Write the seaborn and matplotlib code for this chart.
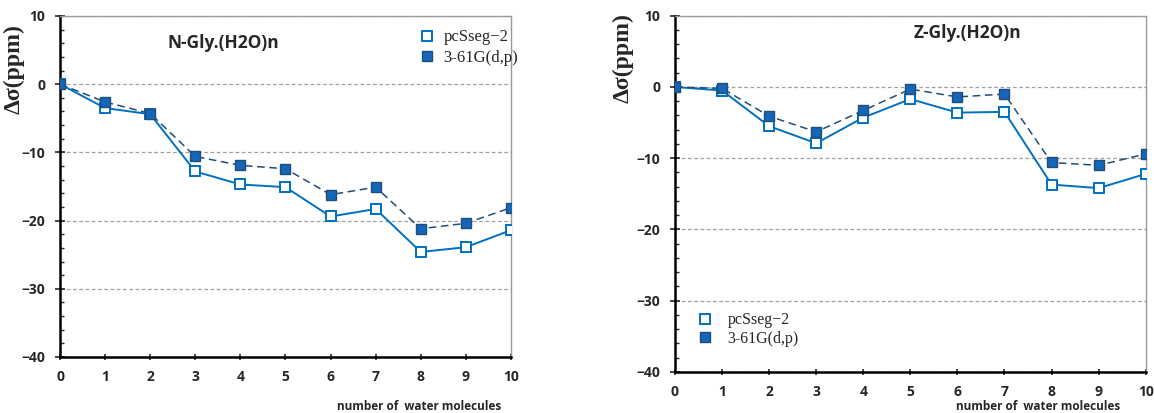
import matplotlib
matplotlib.use("Agg")
import matplotlib.pyplot as plt
from matplotlib.lines import Line2D
from matplotlib.ticker import MultipleLocator
import pandas as pd
import seaborn as sns

# number of water molecules
n_water = [0, 1, 2, 3, 4, 5, 6, 7, 8, 9, 10]

# N-Gly.(H2O)n, chemical shift change (ppm)
n_gly_pcsseg = [0, -3.5, -4.4, -12.8, -14.7, -15.1, -19.4, -18.3, -24.6, -23.9, -21.4]
n_gly_631g = [0, -2.6, -4.3, -10.6, -11.9, -12.4, -16.2, -15.1, -21.2, -20.4, -18.1]

# Z-Gly.(H2O)n
z_gly_pcsseg = [0, -0.5, -5.5, -7.9, -4.3, -1.7, -3.6, -3.5, -13.7, -14.2, -12.2]
z_gly_631g = [0, -0.2, -4.1, -6.3, -3.3, -0.3, -1.4, -1.0, -10.6, -11.0, -9.4]

series_names = ["pcSseg\u22122", "3-61G(d,p)"]

sns.set_style("white")
plt.rcParams['font.family'] = ['Open Sans', 'DejaVu Sans']

open_col = '#0070C0'
fill_col = '#1565B8'
dark_col = '#1F4E79'


def draw_panel(ax, pcsseg, g631):
    df = pd.DataFrame({'n': n_water, 'pcsseg': pcsseg, 'g631': g631})
    sns.lineplot(data=df, x='n', y='pcsseg', ax=ax, color=open_col, linewidth=1.4,
                 marker='s', markersize=6.5, markerfacecolor='white',
                 markeredgecolor=open_col, markeredgewidth=1.4, zorder=3)
    sns.lineplot(data=df, x='n', y='g631', ax=ax, color=dark_col, linewidth=1.1,
                 linestyle=(0, (5, 3)), marker='s', markersize=6.5,
                 markerfacecolor=fill_col, markeredgecolor=dark_col,
                 markeredgewidth=1.0, zorder=4)
    ax.set_xlim(0, 10)
    ax.set_ylim(-40, 10)
    ax.xaxis.set_major_locator(MultipleLocator(1))
    ax.yaxis.set_major_locator(MultipleLocator(10))
    ax.yaxis.set_minor_locator(MultipleLocator(2))
    ax.yaxis.grid(True, linestyle=(0, (3, 2)), color='#a0a0a0', linewidth=0.9)
    ax.set_axisbelow(True)
    for side in ['left', 'bottom']:
        ax.spines[side].set_color('black')
        ax.spines[side].set_linewidth(1.8)
    for side in ['top', 'right']:
        ax.spines[side].set_color('#999999')
        ax.spines[side].set_linewidth(1.0)
    ax.tick_params(axis='y', which='major', direction='inout', length=7, width=1.2,
                   left=True, pad=7, labelsize=10)
    ax.tick_params(axis='y', which='minor', direction='in', length=3, width=1.0, left=True)
    ax.tick_params(axis='x', which='major', direction='inout', length=5, width=1.2,
                   bottom=True, pad=7, labelsize=10)
    for lab in ax.get_xticklabels() + ax.get_yticklabels():
        lab.set_fontweight('bold')
    ax.set_ylabel('\u0394\u03c3(ppm)', family='Liberation Serif', fontsize=17,
                  fontweight='bold')
    ax.set_xlabel('number of  water molecules', fontsize=8.5, fontweight='bold')


fig = plt.figure(figsize=(11.54, 4.13), dpi=100)
ax1 = fig.add_axes([0.052, 0.1356, 0.3908, 0.8257])
ax2 = fig.add_axes([0.5849, 0.0993, 0.4079, 0.8627])

draw_panel(ax1, n_gly_pcsseg, n_gly_631g)
draw_panel(ax2, z_gly_pcsseg, z_gly_631g)

ax1.text(0.239, 0.921, 'N-Gly.(H2O)n', transform=ax1.transAxes, fontsize=12.5,
         fontweight='bold', va='center', ha='left')
ax2.text(0.506, 0.951, 'Z-Gly.(H2O)n', transform=ax2.transAxes, fontsize=12.5,
         fontweight='bold', va='center', ha='left')

ax1.yaxis.set_label_coords(-0.078, 0.845)
ax2.yaxis.set_label_coords(-0.088, 0.881)
ax1.xaxis.set_label_coords(0.796, -0.125)
ax2.xaxis.set_label_coords(0.771, -0.08)

handles = [
    Line2D([], [], linestyle='None', marker='s', markersize=6.5, markerfacecolor='white',
           markeredgecolor=open_col, markeredgewidth=1.4),
    Line2D([], [], linestyle='None', marker='s', markersize=6.5, markerfacecolor=fill_col,
           markeredgecolor=dark_col, markeredgewidth=1.0),
]
ax1.legend(handles, series_names, loc='upper left', bbox_to_anchor=(0.776, 0.985),
           frameon=False, prop={'family': 'Liberation Serif', 'size': 12},
           handlelength=1.0, handletextpad=0.5, borderpad=0, labelspacing=0.25)
ax2.legend(handles, series_names, loc='upper left', bbox_to_anchor=(0.03, 0.19),
           frameon=False, prop={'family': 'Liberation Serif', 'size': 11.5},
           handlelength=1.0, handletextpad=0.9, borderpad=0, labelspacing=0.15)

fig.savefig('out.png', dpi=100)
